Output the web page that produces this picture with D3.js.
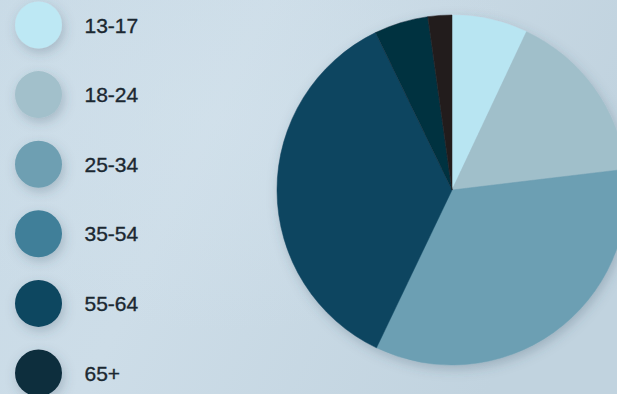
<!DOCTYPE html>
<html>
<head>
<meta charset="utf-8">
<script src="https://cdn.jsdelivr.net/npm/d3@7"></script>
<style>
  html, body { margin: 0; padding: 0; overflow: hidden; }
  body { width: 617px; height: 394px; }
  .legend-label {
    font-family: "Liberation Sans", Arial, sans-serif;
    font-size: 21px;
    fill: #1b2831;
    stroke: #1b2831;
    stroke-width: 0.35px;
  }
</style>
</head>
<body>
<div id="chart"></div>
<script>
// Age groups and their share (percent)
const ageGroups = ['13-17', '18-24', '25-34', '35-54', '55-64', '65+'];
const shares = [7.0, 16.1, 34.0, 35.7, 5.0, 2.2];

// colours as drawn in the legend and in the pie (they differ in the source)
const legendColors = ['#bde8f4', '#a2c0cb', '#6e9fb2', '#3f7f99', '#0b4660', '#072d3d'];
const sliceColors = ['#b8e5f2', '#a0bfca', '#6c9fb3', '#0b4560', '#06303f', '#221c1d'];

const width = 617;
const height = 394;

const svg = d3.select('#chart')
  .append('svg')
  .attr('width', width)
  .attr('height', height);

const defs = svg.append('defs');

// Background gradient
const bg = defs.append('linearGradient')
  .attr('id', 'bg')
  .attr('x1', '0').attr('y1', '0')
  .attr('x2', '1').attr('y2', '0.3');
bg.append('stop').attr('offset', '0%').attr('stop-color', '#c8dae6');
bg.append('stop').attr('offset', '40%').attr('stop-color', '#cddde8');
bg.append('stop').attr('offset', '100%').attr('stop-color', '#c1d3df');

const glow = defs.append('radialGradient')
  .attr('id', 'glow')
  .attr('cx', '0.35').attr('cy', '0.3').attr('r', '0.55');
glow.append('stop').attr('offset', '0%').attr('stop-color', '#d4e3ed').attr('stop-opacity', 0.5);
glow.append('stop').attr('offset', '100%').attr('stop-color', '#d4e3ed').attr('stop-opacity', 0);

// Soft drop shadow
const shadow = defs.append('filter')
  .attr('id', 'shadow')
  .attr('x', '-30%').attr('y', '-30%')
  .attr('width', '160%').attr('height', '160%');
shadow.append('feDropShadow')
  .attr('dx', 2).attr('dy', 4)
  .attr('stdDeviation', 6)
  .attr('flood-color', '#3b5566')
  .attr('flood-opacity', 0.28);

svg.append('rect').attr('width', width).attr('height', height).attr('fill', 'url(#bg)');
svg.append('rect').attr('width', width).attr('height', height).attr('fill', 'url(#glow)');

// Legend
const legendY = d3.scalePoint()
  .domain(ageGroups)
  .range([25, 373]);

const legend = svg.append('g').attr('class', 'legend');

const items = legend.selectAll('g')
  .data(ageGroups)
  .enter()
  .append('g')
  .attr('transform', d => `translate(38.5, ${legendY(d)})`);

items.append('circle')
  .attr('r', 23.5)
  .attr('fill', (d, i) => legendColors[i])
  .attr('filter', 'url(#shadow)');

items.append('text')
  .attr('class', 'legend-label')
  .attr('x', 46)
  .attr('dy', '0.36em')
  .text(d => d);

// Pie
const cx = 452;
const cy = 190;
const radius = 175;

const pie = d3.pie()
  .sort(null)
  .value(d => d.value);

const arc = d3.arc()
  .innerRadius(0)
  .outerRadius(radius);

const pieData = pie(ageGroups.map((g, i) => ({ group: g, value: shares[i], color: sliceColors[i] })));

const pieG = svg.append('g')
  .attr('transform', `translate(${cx}, ${cy})`)
  .attr('filter', 'url(#shadow)');

pieG.selectAll('path')
  .data(pieData)
  .enter()
  .append('path')
  .attr('d', arc)
  .attr('fill', d => d.data.color)
  .attr('stroke', d => d.data.color)
  .attr('stroke-width', 0.5)
  .append('title')
  .text(d => `${d.data.group}: ${d.data.value}%`);
</script>
</body>
</html>
